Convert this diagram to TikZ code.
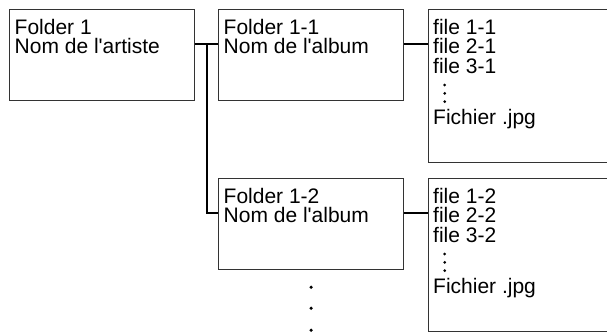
\documentclass[tikz,border=0pt]{standalone}
\usepackage{fontspec}
\setmainfont{Liberation Sans}
\usetikzlibrary{positioning,calc}

\tikzset{
  folder/.style={draw=black!80, line width=1.2pt, minimum width=185pt, minimum height=91pt, inner sep=0pt, anchor=north west},
  filelist/.style={draw=black!80, line width=1.2pt, minimum width=220pt, minimum height=153pt, inner sep=0pt, anchor=north west},
  txt/.style={anchor=north west, align=left, inner sep=0pt, font=\fontsize{21}{19.3}\selectfont},
  link/.style={line width=2pt},
}

\begin{document}
\begin{tikzpicture}[x=1pt,y=-1pt]
  \clip (0,0) rectangle (607,332);

  \node[folder] (artist) at (9,9) {};
  \node[folder] (album1) at (218,9) {};
  \node[folder] (album2) at (218,178) {};
  \node[filelist] (files1) at (428,9) {};
  \node[filelist] (files2) at (428,178) {};

  \node[txt] (artisttxt) at ($(artist.north west)+(5.5,10)$) {Folder 1\\Nom de l\textquotesingle artiste};
  \node[txt] (album1txt) at ($(album1.north west)+(5.5,10)$) {Folder 1-1\\Nom de l\textquotesingle album};
  \node[txt] (album2txt) at ($(album2.north west)+(5.5,10)$) {Folder 1-2\\Nom de l\textquotesingle album};
  \node[txt] (files1txt) at ($(files1.north west)+(5,10)$) {file 1-1\\file 2-1\\file 3-1};
  \node[txt] (files2txt) at ($(files2.north west)+(5,10)$) {file 1-2\\file 2-2\\file 3-2};
  \node[txt] (jpg1) at ($(files1.north west)+(5,100.5)$) {Fichier .jpg};
  \node[txt] (jpg2) at ($(files2.north west)+(5,100.5)$) {Fichier .jpg};

  % connectors
  \coordinate (fork) at ($(artist.north east)!0.5!(album1.north west)+(0,35)$);
  \draw[link] ($(artist.north east)+(0,35)$) -- ($(album1.north west)+(0,35)$);
  \draw[link] (fork) |- ($(album2.north west)+(0,35)$);
  \draw[link] ($(album1.north east)+(0,35)$) -- ($(files1.north west)+(0,35)$);
  \draw[link] ($(album2.north east)+(0,35)$) -- ($(files2.north west)+(0,35)$);

  % dots
  \foreach \d in {76,84.3,92.7} {
    \fill ($(files1.north west)+(16.7,\d)$) circle (1.5pt);
    \fill ($(files2.north west)+(16.7,\d)$) circle (1.5pt);
  }
  \foreach \d in {17,38,60}
    \fill ($(album2.south)+(0,\d)$) circle (1.8pt);
\end{tikzpicture}
\end{document}
